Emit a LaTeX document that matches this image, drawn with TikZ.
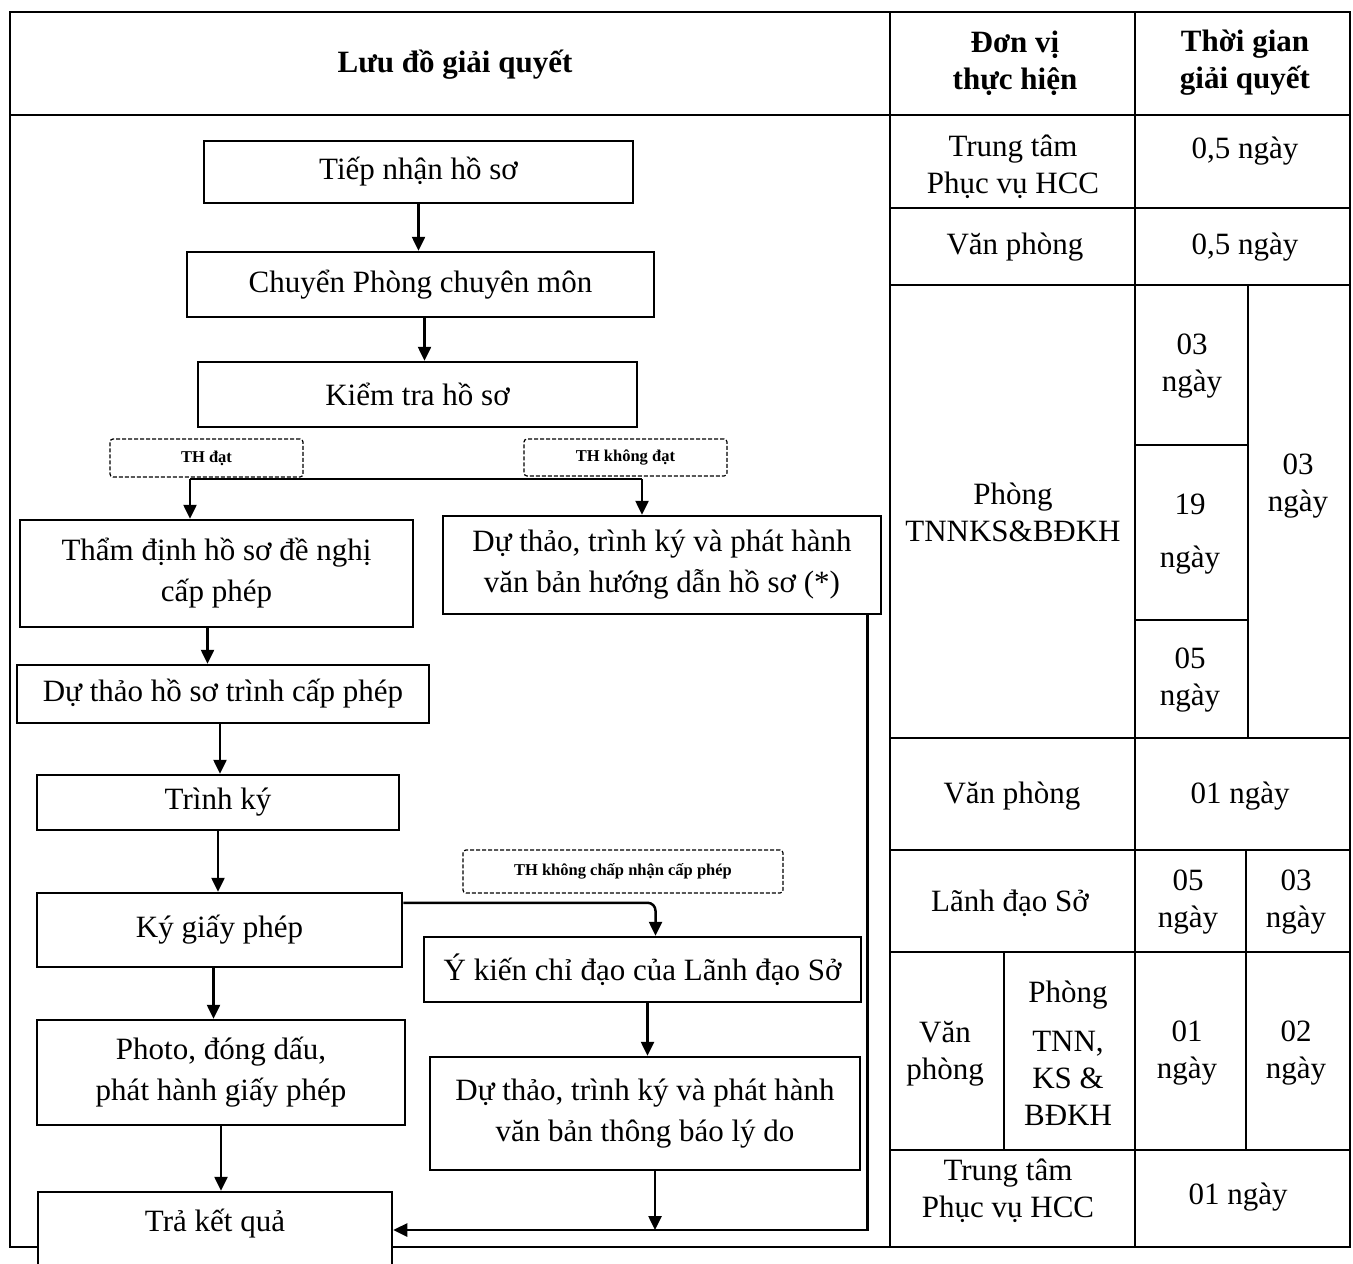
\documentclass[tikz,border=0pt]{standalone}
\usepackage{fontspec}
\setmainfont{Liberation Serif}
\usetikzlibrary{arrows.meta}
\newcommand{\ffs}{\fontsize{31}{41}\selectfont}
\newcommand{\tfs}{\fontsize{31}{37}\selectfont}
\begin{document}
\begin{tikzpicture}[x=1pt,y=-1pt,
  box/.style={draw, line width=2.5pt, fill=white, align=center, font=\ffs, inner sep=0pt},
  dbox/.style={draw, dashed, dash pattern=on 4pt off 2pt, line width=1.2pt, rounded corners=3pt, fill=white, align=center, inner sep=0pt, font=\bfseries\fontsize{16.5}{18}\selectfont},
  arr/.style={line width=2.5pt, -{Triangle[length=14pt,width=13pt]}},
  conn/.style={line width=2.5pt},
  grid/.style={line width=2pt},
  cell/.style={align=center, font=\tfs, inner sep=0pt},
  hcell/.style={align=center, font=\bfseries\tfs, inner sep=0pt}]
\useasboundingbox (0,0) rectangle (1353,1264);
\fill[white] (0,0) rectangle (1353,1264);

% ---------- table frame ----------
\draw[grid] (10,12) rectangle (1350,1247);
\draw[grid] (10,115) -- (1350,115);
\draw[grid] (890,12) -- (890,1247);
\draw[grid] (1135,12) -- (1135,1247);
\foreach \yy in {208,285,738,850,952,1150} \draw[grid] (890,\yy) -- (1350,\yy);
\draw[grid] (1248,285) -- (1248,738);
\draw[grid] (1135,445) -- (1248,445);
\draw[grid] (1135,620) -- (1248,620);
\draw[grid] (1246,850) -- (1246,1150);
\draw[grid] (1004,952) -- (1004,1150);

% ---------- table texts ----------
\node[hcell] (h1) at (455,65) {Lưu đồ giải quyết};
\node[hcell] (h2) at (1015,63) {Đơn vị\\thực hiện};
\node[hcell] (h3) at (1245,63) {Thời gian\\giải quyết};
\node[cell] (u1) at (1013,167) {Trung tâm\\Phục vụ HCC};
\node[cell] (t1) at (1245,151) {0,5 ngày};
\node[cell] (u2) at (1015,247) {Văn phòng};
\node[cell] (t2) at (1245,247) {0,5 ngày};
\node[cell] (u3) at (1013,512) {Phòng\\TNNKS\&BĐKH};
\node[cell] (t3a) at (1192,366) {03\\ngày};
\node[cell, font=\fontsize{31}{53}\selectfont] (t3b) at (1190,534) {19\\ngày};
\node[cell] (t3c) at (1190,680) {05\\ngày};
\node[cell] (t3d) at (1298,486) {03\\ngày};
\node[cell] (u4) at (1012,796) {Văn phòng};
\node[cell] (t4) at (1240,796) {01 ngày};
\node[cell] (u5) at (1010,903) {Lãnh đạo Sở};
\node[cell] (t5a) at (1188,902) {05\\ngày};
\node[cell] (t5b) at (1296,902) {03\\ngày};
\node[cell] (u6a) at (945,1054) {Văn\\phòng};
\node[cell] (u6b) at (1068,1053) {Phòng\\[12pt]TNN,\\KS \&\\BĐKH};
\node[cell] (t6a) at (1187,1053) {01\\ngày};
\node[cell] (t6b) at (1296,1053) {02\\ngày};
\node[cell] (u7) at (1008,1191) {Trung tâm\\Phục vụ HCC};
\node[cell] (t7) at (1238,1197) {01 ngày};

% ---------- flowchart boxes ----------
\node[box, minimum width=429, minimum height=62] (tn) at (418.5,172) {Tiếp nhận hồ sơ};
\node[box, minimum width=467, minimum height=65] (cp) at (420.5,284.5) {Chuyển Phòng chuyên môn};
\node[box, minimum width=439, minimum height=65] (kt) at (417.5,394.5) {Kiểm tra hồ sơ};
\node[dbox, minimum width=193, minimum height=38] (thd) at (206.5,458) {TH đạt};
\node[dbox, minimum width=203, minimum height=37] (thkd) at (625.5,457.5) {TH không đạt};
\node[box, minimum width=393, minimum height=107] (td) at (216.5,573.5) {Thẩm định hồ sơ đề nghị\\cấp phép};
\node[box, minimum width=438, minimum height=98] (dth) at (662,565) {Dự thảo, trình ký và phát hành\\văn bản hướng dẫn hồ sơ (*)};
\node[box, minimum width=412, minimum height=58] (dths) at (223,694) {Dự thảo hồ sơ trình cấp phép};
\node[box, minimum width=362, minimum height=55] (trk) at (218,802.5) {Trình ký};
\node[dbox, minimum width=320, minimum height=43] (thcp) at (623,871.5) {TH không chấp nhận cấp phép};
\node[box, minimum width=365, minimum height=74] (ky) at (219.5,930) {Ký giấy phép};
\node[box, minimum width=437, minimum height=65] (yk) at (642.5,969.5) {Ý kiến chỉ đạo của Lãnh đạo Sở};
\node[box, minimum width=368, minimum height=105] (ph) at (221,1072.5) {Photo, đóng dấu,\\phát hành giấy phép};
\node[box, minimum width=430, minimum height=113] (tb) at (645,1113.5) {Dự thảo, trình ký và phát hành\\văn bản thông báo lý do};
\node[box, minimum width=354, minimum height=84, text depth=28pt] (ret) at (215,1234) {Trả kết quả};

% ---------- connectors ----------
\draw[arr] (tn.south) -- (tn.south |- cp.north);
\draw[arr] ([xshift=4pt]cp.south) -- ([xshift=4pt]cp.south |- kt.north);
\coordinate (brL) at (190,479);
\coordinate (brR) at (642,479);
\draw[conn] (brL) -- (brR);
\draw[arr] (brL) -- (brL |- td.north);
\draw[arr] (brR) -- (brR |- dth.north);
\draw[arr] ([xshift=-9pt]td.south) -- ([xshift=-9pt]td.south |- dths.north);
\draw[arr] ([xshift=-3pt]dths.south) -- ([xshift=-3pt]dths.south |- trk.north);
\draw[arr] (trk.south) -- (trk.south |- ky.north);
\draw[arr] ([xshift=-6pt]ky.south) -- ([xshift=-6pt]ky.south |- ph.north);
\draw[arr] (ph.south) -- (ph.south |- ret.north);
\coordinate (kyout) at ([yshift=-11pt]ky.north east);
\coordinate (ykin) at ([xshift=13pt]yk.north);
\draw[arr, rounded corners=8pt] (kyout) -- (kyout -| ykin) -- (ykin);
\draw[arr] ([xshift=5pt]yk.south) -- ([xshift=5pt]yk.south |- tb.north);
\coordinate (retin) at ([yshift=4pt]ret.east);
\coordinate (tbout) at ([xshift=10pt]tb.south);
\coordinate (dthout) at ([xshift=-15pt]dth.south east);
\draw[arr] (dthout) |- (retin);
\draw[arr] (tbout) -- (tbout |- retin);
\end{tikzpicture}
\end{document}
